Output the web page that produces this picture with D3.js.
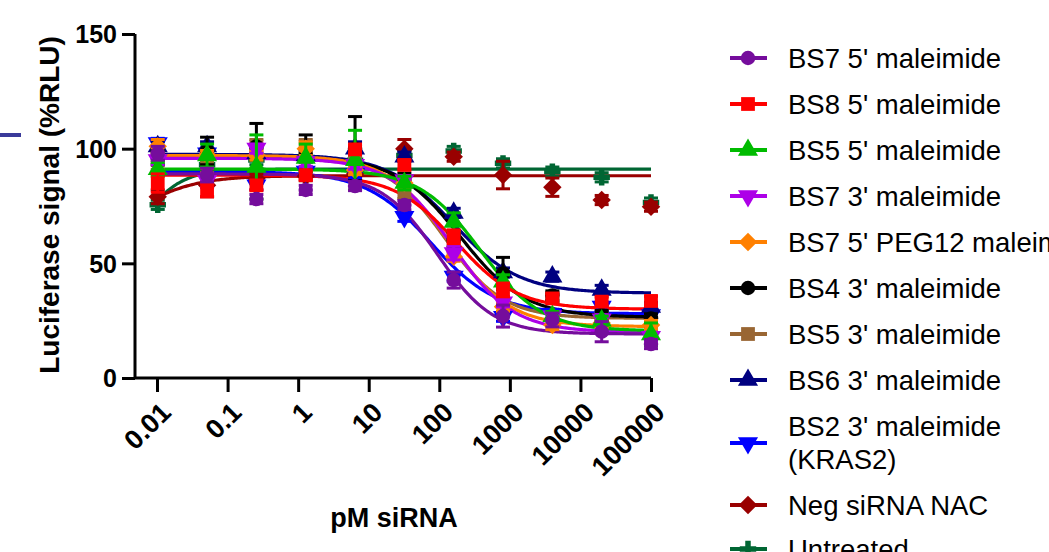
<!DOCTYPE html>
<html>
<head>
<meta charset="utf-8">
<script src="https://cdn.jsdelivr.net/npm/d3@7"></script>
<style>
  body { margin: 0; background: #fff; }
  svg { display: block; font-family: "Liberation Sans", Arial, sans-serif; }
</style>
</head>
<body>
<svg id="chart" width="1049" height="552"></svg>
<script>
// concentrations, 5-fold dilution from 100000 pM
const conc = [0.01024, 0.0512, 0.256, 1.28, 6.4, 32, 160, 800, 4000, 20000, 100000];
const xTicks = [0.01, 0.1, 1, 10, 100, 1000, 10000, 100000];
const xTickLabels = ["0.01", "0.1", "1", "10", "100", "1000", "10000", "100000"];
const yTicks = [0, 50, 100, 150];

const names = ["BS7 5' maleimide", "BS8 5' maleimide", "BS5 5' maleimide", "BS7 3' maleimide",
  "BS7 5' PEG12 maleimide", "BS4 3' maleimide", "BS5 3' maleimide", "BS6 3' maleimide",
  "BS2 3' maleimide\n(KRAS2)", "Neg siRNA NAC", "Untreated"];
const colors = ["#750d9c", "#ff0000", "#00bb00", "#ad00e8", "#ff8000", "#000000",
  "#996633", "#000080", "#0000ff", "#990000", "#006633"];
const shapes = ["circle", "square", "up", "down", "diamond", "circle", "square", "up", "down", "diamond", "cross"];

// mean values (%RLU)
const bs7_5 = [98, 88.5, 78, 82, 83.7, 75.4, 42.7, 27, 25.3, 20.2, 14.8];
const bs8_5 = [85, 82, 84, 88.5, 99.7, 92.9, 61.6, 38.4, 34.7, 33.3, 33.6];
const bs5_5 = [91, 97, 92, 96, 95, 85, 68, 42, 27, 25, 19];
const bs7_3 = [95, 86, 100, 94.3, 93, 86.3, 54.5, 33, 27, 25.6, 18];
const bs7peg = [101, 97.2, 97, 100, 90.7, 85, 52.9, 31.1, 23.1, 24, 23.1];
const bs4_3 = [96, 99, 101, 97, 100, 86.3, 60, 45.6, 36, 27.5, 26];
const bs5_3 = [95, 93.7, 101, 101, 98, 81.2, 54.5, 33, 35, 26, 22.4];
const bs6_3 = [101, 101, 98, 97, 100, 96.5, 72, 46, 44.2, 38.4, 31];
const bs2_3 = [102.5, 98, 84, 90, 89, 70.3, 44.2, 26.7, 28, 31.1, 27.5];
const negNac = [79, 84, 87, 88, 89, 100, 96.5, 88.5, 83.2, 77.6, 74.7];
const untreated = [75.5, 93, 95, 96, 95, 97, 99, 93.6, 90, 87.5, 76.5];

// error bars (SD)
const bs7_5Err = [3, 3, 2, 2, 2, 2, 3.5, 4.8, 3, 4.4, 2];
const bs8_5Err = [4, 3, 2, 2, 2, 2, 3, 3, 2, 2, 2];
const bs5_5Err = [3, 5, 14, 6, 13, 3, 4, 3, 2, 2, 5];
const bs7_3Err = [2, 3, 2, 2, 2, 2, 3, 2, 2, 2, 2];
const bs7pegErr = [3, 2, 2, 3, 2, 2, 2, 2, 2, 2, 2];
const bs4_3Err = [3, 6, 10, 9, 14, 3, 3, 7, 2, 2, 2];
const bs5_3Err = [4, 4, 3, 3, 3, 3, 3, 2, 2, 2, 2];
const bs6_3Err = [2, 2, 2, 2, 3, 2, 2, 2, 2, 2, 2];
const bs2_3Err = [2, 2, 2, 2, 2, 2, 2, 2, 2, 2, 2];
const negNacErr = [3, 5, 2, 2, 2, 4, 2, 6, 4, 2, 2];
const untreatedErr = [2, 2, 2, 2, 2, 2, 2, 2, 2, 2, 2];

// four-parameter logistic fits: left plateau, right plateau, logIC50, hill
const fitTop = [89, 88.5, 91.1, 95.8, 97, 96.5, 96, 97.5, 90, 60, 50];
const fitBottom = [19.2, 30, 20.5, 20, 22.4, 26.5, 26, 37, 28, 88.2, 91.1];
const fitLogIC50 = [1.97, 2.24, 2.58, 2.18, 2.13, 2.3, 2.08, 2.2, 1.88, -2.3, -2.2];
const fitHill = [1.1, 1.0, 1.0, 1.0, 1.0, 0.95, 1.05, 0.93, 0.95, 1.0, 1.5];

const means = [bs7_5, bs8_5, bs5_5, bs7_3, bs7peg, bs4_3, bs5_3, bs6_3, bs2_3, negNac, untreated];
const errs = [bs7_5Err, bs8_5Err, bs5_5Err, bs7_3Err, bs7pegErr, bs4_3Err, bs5_3Err, bs6_3Err, bs2_3Err, negNacErr, untreatedErr];

const svg = d3.select("#chart");
const font = "'Liberation Sans', Arial, sans-serif";

const x = d3.scaleLog().domain([Math.pow(10, -2.312), 1e5]).range([135, 651]);
const y = d3.scaleLinear().domain([0, 150]).range([378, 34]);

// stray mark at the left edge
svg.append("rect").attr("x", 0).attr("y", 133).attr("width", 21).attr("height", 4).attr("fill", "#3a3a9a");

function symbolPath(shape, size) {
    if (shape === "circle") return d3.symbol(d3.symbolCircle, size)();
    if (shape === "square") return d3.symbol(d3.symbolSquare, size)();
    if (shape === "up" || shape === "down") return d3.symbol(d3.symbolTriangle, size)();
    if (shape === "diamond") return d3.symbol(d3.symbolSquare, size)();
    return d3.symbol(d3.symbolCross, size)();
}
function symbolRotate(shape) {
    if (shape === "down") return " rotate(180)";
    if (shape === "diamond") return " rotate(45)";
    return "";
}
const sizes = { circle: 165, square: 190, up: 175, down: 175, diamond: 170, cross: 150 };

function fit(i, c) {
    const lx = Math.log10(c);
    return fitBottom[i] + (fitTop[i] - fitBottom[i]) / (1 + Math.pow(10, (lx - fitLogIC50[i]) * fitHill[i]));
}

// fitted curves
const curveX = d3.range(0, 301).map(k => conc[0] * Math.pow(100000 / conc[0], k / 300));
const line = d3.line().x(d => x(d[0])).y(d => y(d[1]));
const order = d3.range(names.length).reverse();

order.forEach(i => {
    svg.append("path")
        .attr("d", line(curveX.map(c => [c, fit(i, c)])))
        .attr("fill", "none")
        .attr("stroke", colors[i])
        .attr("stroke-width", 3.2);
});

// error bars + points
order.forEach(i => {
    const g = svg.append("g");
    conc.forEach((c, k) => {
        const cx = x(c), v = means[i][k], e = errs[i][k];
        const y1 = y(v - e), y2 = y(v + e);
        g.append("line").attr("x1", cx).attr("x2", cx).attr("y1", y1).attr("y2", y2)
            .attr("stroke", colors[i]).attr("stroke-width", 3);
        [y1, y2].forEach(yy => g.append("line")
            .attr("x1", cx - 7).attr("x2", cx + 7).attr("y1", yy).attr("y2", yy)
            .attr("stroke", colors[i]).attr("stroke-width", 3));
    });
    g.selectAll("path.pt")
        .data(conc)
        .enter().append("path")
        .attr("class", "pt")
        .attr("d", symbolPath(shapes[i], sizes[shapes[i]]))
        .attr("transform", (c, k) => `translate(${x(c)},${y(means[i][k])})` + symbolRotate(shapes[i]))
        .attr("fill", colors[i]);
});

// axes
const yAxis = svg.append("g").attr("transform", "translate(135,0)")
    .call(d3.axisLeft(y).tickValues(yTicks).tickSize(13).tickSizeOuter(0).tickPadding(5));
const xAxis = svg.append("g").attr("transform", "translate(0,378)")
    .call(d3.axisBottom(x).tickValues(xTicks).tickFormat((d, i) => xTickLabels[i]).tickSize(14).tickSizeOuter(0));

[yAxis, xAxis].forEach(a => {
    a.select(".domain").attr("stroke", "#000").attr("stroke-width", 3);
    a.selectAll(".tick line").attr("stroke", "#000").attr("stroke-width", 3);
});
xAxis.select(".domain").attr("d", "M135,0H651");
yAxis.select(".domain").attr("d", "M0,378V34");

yAxis.selectAll(".tick text")
    .attr("font-family", font).attr("font-size", 25).attr("font-weight", "bold")
    .attr("fill", "#000").attr("dy", "0.35em");

xAxis.selectAll(".tick text")
    .attr("font-family", font).attr("font-size", 27).attr("font-weight", "bold")
    .attr("fill", "#000")
    .attr("text-anchor", "end")
    .attr("y", 0).attr("dy", 0)
    .attr("transform", "translate(15,36) rotate(-45)");

// axis titles
svg.append("text")
    .attr("transform", "translate(59,205) rotate(-90)")
    .attr("text-anchor", "middle")
    .attr("font-family", font).attr("font-size", 28).attr("font-weight", "bold")
    .text("Luciferase signal (%RLU)");

svg.append("text")
    .attr("x", 394).attr("y", 527)
    .attr("text-anchor", "middle")
    .attr("font-family", font).attr("font-size", 27).attr("font-weight", "bold")
    .text("pM siRNA");

// legend
const legendY = [58, 104, 150, 196, 242, 288, 334, 380, 443, 505, 549];
names.forEach((name, i) => {
    const g = svg.append("g").attr("transform", `translate(0,${legendY[i]})`);
    g.append("line").attr("x1", 730).attr("x2", 767).attr("y1", 0).attr("y2", 0)
        .attr("stroke", colors[i]).attr("stroke-width", 4);
    g.append("path")
        .attr("d", symbolPath(shapes[i], sizes[shapes[i]]))
        .attr("transform", "translate(748,0)" + symbolRotate(shapes[i]))
        .attr("fill", colors[i]);
    const lines = name.split("\n");
    const t = g.append("text")
        .attr("font-family", font).attr("font-size", 27.5).attr("fill", "#000");
    lines.forEach((s, j) => {
        t.append("tspan").attr("x", 788)
            .attr("y", 9.5 + (j - (lines.length - 1) / 2) * 33)
            .text(s);
    });
});
</script>
</body>
</html>
